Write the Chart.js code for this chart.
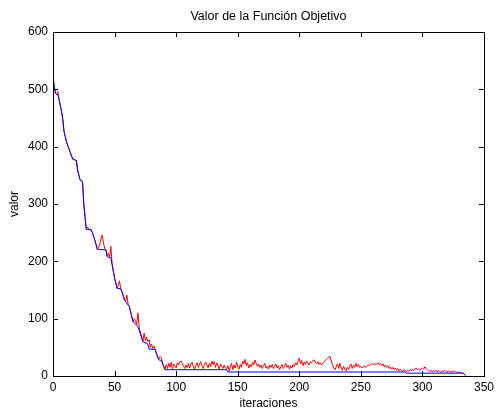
<!DOCTYPE html>
<html>
<head>
<meta charset="utf-8">
<script src="https://cdn.jsdelivr.net/npm/chart.js@4"></script>
<style>
body { margin: 0; background: #fff; }
canvas { display: block; }
</style>
</head>
<body>
<canvas id="grafico" width="498" height="414"></canvas>
<script>
const titulo = 'Valor de la Función Objetivo';
const etiquetaX = 'iteraciones';
const etiquetaY = 'valor';
const ticksX = [0, 50, 100, 150, 200, 250, 300, 350];
const ticksY = [0, 100, 200, 300, 400, 500, 600];

// valor de cada iteracion (linea roja), desde la iteracion 0
const valoresRojo = [
    525, 505, 493, 491, 496, 481, 471, 461, 447, 426,
    417, 408, 402, 396, 390, 384, 380, 377, 377, 376,
    359, 350, 342, 340, 339, 300, 278, 256, 260, 256,
    255, 255, 250, 243, 237, 229, 221, 224, 230, 240,
    246, 232, 222, 220, 210, 214, 208, 226, 196, 183,
    171, 162, 153, 158, 166, 152, 147, 140, 133, 131,
    141, 125, 121, 112, 103, 95, 100, 96, 90, 110,
    84, 77, 68, 60, 75, 62, 68, 60, 63, 50,
    56, 48, 52, 46, 38, 32, 30, 34, 31, 22,
    16, 12,
    20, 13, 22, 15, 24, 12, 21, 18, 14, 23,
    19, 25, 26, 22, 17, 13, 19, 15, 22, 14,
    20, 24, 16, 12, 18, 23, 15, 21, 25, 17,
    13, 20, 24, 19, 14, 22, 16, 26, 20, 25,
    15, 23, 18, 12, 21, 17, 13, 19, 14, 12,
    18, 9, 16, 22, 11, 19, 14, 24, 17, 12,
    20, 15, 26, 21, 29, 18, 23, 14, 20, 16,
    24, 19, 28, 22, 17, 21, 15, 19, 13, 18,
    22, 14, 17, 12, 19, 15, 20, 13, 17, 21,
    14, 18, 11, 16, 20, 13, 17, 22, 15, 19,
    12, 18, 14, 20, 16, 23, 19, 26, 31, 21,
    27, 18, 24, 20, 26, 22, 19, 25, 23, 27,
    28, 24, 21, 25, 20, 23, 19, 22, 25, 27,
    29, 31, 33, 34, 26, 20, 14, 11, 16, 21,
    13, 22, 14, 10, 17, 12, 9, 15, 11, 18,
    21, 13, 19, 15, 22, 16, 20, 15, 17, 14,
    16, 18, 15, 17, 19, 18, 20, 21, 20, 22,
    19, 21, 23, 20, 22, 18, 21, 16, 19, 15,
    18, 13, 16, 12, 15, 11, 14, 10, 13, 9,
    12, 10, 8, 11, 9, 7, 10, 8, 11, 9,
    12, 10, 13, 14, 11, 12, 10, 13, 14, 12,
    16, 13, 11, 9, 8, 10, 7, 9, 8, 10,
    7, 9, 8, 6, 9, 7, 10, 8, 6, 9,
    7, 8, 6, 9, 7, 8, 6, 7, 6, 6,
    5, 5, 3, 1
];

// mejor valor encontrado (linea azul): vertices
const iterAzul = [0, 1, 2, 4, 5, 7, 8, 9, 11, 14, 16, 19, 20, 22, 24, 25, 26, 27, 31, 32,
    34, 36, 43, 44, 47, 48, 50, 52, 55, 56, 58, 62, 65, 69, 73, 77, 78, 83, 86, 88,
    91, 141, 142, 286, 287, 333, 335];
const valoresAzul = [525, 505, 493, 490, 481, 461, 447, 426, 408, 390, 378, 376, 359, 342, 339, 300, 278, 256, 255, 250,
    237, 221, 220, 208, 206, 194, 171, 153, 152, 147, 133, 121, 95, 86, 60, 56, 47, 46, 28, 27,
    11, 11, 7, 7, 5, 5, 1];

const familia = "'Liberation Sans', Arial, sans-serif";
const fuente = { family: familia, size: 12 };

// titulo centrado sobre el area del grafico
const tituloPlugin = {
    id: 'tituloPlugin',
    afterDraw(chart) {
        const ctx = chart.ctx;
        const area = chart.chartArea;
        ctx.save();
        ctx.fillStyle = '#000';
        ctx.font = '12.5px ' + familia;
        ctx.textAlign = 'center';
        ctx.textBaseline = 'middle';
        ctx.fillText(titulo, (area.left + area.right) / 2, 17);
        ctx.restore();
    }
};

// caja y marcas hacia dentro, estilo matlab
const marcoPlugin = {
    id: 'marcoPlugin',
    afterDraw(chart) {
        const ctx = chart.ctx;
        const a = chart.chartArea;
        const x = chart.scales.x;
        const y = chart.scales.y;
        const largo = 5;
        ctx.save();
        ctx.strokeStyle = '#000';
        ctx.lineWidth = 1;
        ctx.strokeRect(Math.round(a.left) + 0.5, Math.round(a.top) + 0.5,
            Math.round(a.right - a.left), Math.round(a.bottom - a.top));
        ctx.beginPath();
        x.ticks.forEach(t => {
            const px = Math.round(x.getPixelForValue(t.value)) + 0.5;
            ctx.moveTo(px, a.bottom);
            ctx.lineTo(px, a.bottom - largo);
            ctx.moveTo(px, a.top);
            ctx.lineTo(px, a.top + largo);
        });
        y.ticks.forEach(t => {
            const py = Math.round(y.getPixelForValue(t.value)) + 0.5;
            ctx.moveTo(a.left, py);
            ctx.lineTo(a.left + largo, py);
            ctx.moveTo(a.right, py);
            ctx.lineTo(a.right - largo, py);
        });
        ctx.stroke();
        ctx.restore();
    }
};

new Chart(document.getElementById('grafico'), {
    type: 'line',
    data: {
        datasets: [
            {
                label: 'mejor',
                data: iterAzul.map((it, i) => ({ x: it, y: valoresAzul[i] })),
                borderColor: '#0000ff',
                borderWidth: 1,
                pointRadius: 0,
                tension: 0
            },
            {
                label: 'actual',
                data: valoresRojo.map((v, i) => ({ x: i, y: v })),
                borderColor: '#ff0000',
                borderWidth: 1,
                pointRadius: 0,
                tension: 0
            }
        ]
    },
    options: {
        responsive: false,
        devicePixelRatio: 1,
        animation: false,
        layout: { padding: { top: 32, right: 10, left: 0, bottom: 0 } },
        plugins: {
            legend: { display: false },
            tooltip: { enabled: false },
            title: { display: false }
        },
        scales: {
            x: {
                type: 'linear',
                min: 0,
                max: 350,
                afterBuildTicks: s => { s.ticks = ticksX.map(v => ({ value: v })); },
                afterFit: s => { s.height = 38; },
                grid: { display: false, drawTicks: false },
                border: { display: false },
                ticks: { color: '#000', font: fuente, padding: 4, maxRotation: 0 },
                title: { display: true, text: etiquetaX, color: '#000', font: fuente, padding: { top: 0, bottom: 3 } }
            },
            y: {
                type: 'linear',
                min: 0,
                max: 600,
                afterBuildTicks: s => { s.ticks = ticksY.map(v => ({ value: v })); },
                afterFit: s => { s.width = 53; },
                grid: { display: false, drawTicks: false },
                border: { display: false },
                ticks: { color: '#000', font: fuente, padding: 5 },
                title: { display: true, text: etiquetaY, color: '#000', font: fuente, padding: { top: 7, bottom: 0 } }
            }
        }
    },
    plugins: [tituloPlugin, marcoPlugin]
});
</script>
</body>
</html>
